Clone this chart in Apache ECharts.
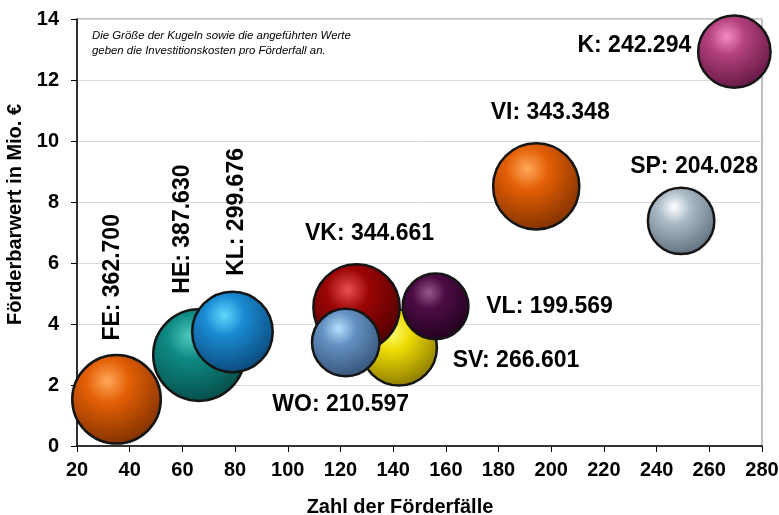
<!DOCTYPE html>
<html>
<head>
<meta charset="utf-8">
<script src="https://cdn.jsdelivr.net/npm/echarts@6/dist/echarts.min.js"></script>
<style>html,body{margin:0;padding:0;background:#fff}#c{width:779px;height:515px}</style>
</head>
<body>
<div id="c"></div>
<script>
// Data
const names = ['FE', 'HE', 'KL', 'SV', 'VK', 'VL', 'WO', 'VI', 'SP', 'K'];
const foerderfaelle = [35, 66.3, 79, 142.2, 126.1, 156.1, 122, 194.3, 249.3, 269.5];
const foerderbarwert = [1.53, 2.98, 3.74, 3.23, 4.54, 4.58, 3.39, 8.51, 7.38, 12.93];
const investKosten = [362700, 387630, 299676, 266601, 344661, 199569, 210597, 343348, 204028, 242294];
const xTicks = [20, 40, 60, 80, 100, 120, 140, 160, 180, 200, 220, 240, 260, 280];
const yTicks = [0, 2, 4, 6, 8, 10, 12, 14];

// Styles (not data)
const palette = {
  FE: ['#FFA85A', '#E35F05', '#7A2E00'],
  HE: ['#4FC7BE', '#0F8A84', '#054A46'],
  KL: ['#5ED8FF', '#1A8BD2', '#0A4474'],
  SV: ['#FFFF7A', '#EEDC05', '#857400'],
  VK: ['#E85050', '#9C0505', '#4A0000'],
  VL: ['#94588A', '#4C0C44', '#20001C'],
  WO: ['#B6E0FF', '#6491C2', '#324F72'],
  VI: ['#FFA85A', '#E35F05', '#7A2E00'],
  SP: ['#FFFFFF', '#AABAC6', '#5A6A78'],
  K:  ['#F58CC6', '#B4427E', '#5E1440']
};
// screen offsets of label centre from bubble centre
const labelLayoutCfg = {
  FE: {offset: [-4, -122], rotate: 90},
  HE: {offset: [-16, -126], rotate: 90},
  KL: {offset: [4, -120], rotate: 90},
  SV: {offset: [117, 13], rotate: 0},
  VK: {offset: [13, -74], rotate: 0},
  VL: {offset: [114, 0], rotate: 0},
  WO: {offset: [-5, 62], rotate: 0},
  VI: {offset: [14, -74], rotate: 0},
  SP: {offset: [13, -54], rotate: 0},
  K:  {offset: [-100, -6], rotate: 0}
};

function fmt(v) {
  const s = String(Math.round(v));
  return s.replace(/\B(?=(\d{3})+(?!\d))/g, '.');
}

const FONT = 'Liberation Sans, Arial, sans-serif';

const seriesData = names.map((n, i) => {
  const c = palette[n];
  const ll = labelLayoutCfg[n];
  return {
    name: n,
    value: [foerderfaelle[i], foerderbarwert[i], investKosten[i]],
    itemStyle: {
      opacity: 1,
      color: {
        type: 'radial', x: 0.4, y: 0.3, r: 0.75,
        colorStops: [
          {offset: 0, color: c[0]},
          {offset: 0.32, color: c[1]},
          {offset: 1, color: c[2]}
        ]
      },
      borderColor: '#151515',
      borderWidth: 2.5
    },
    label: {
      show: true,
      position: 'inside',
      rotate: ll.rotate,
      formatter: n + ': ' + fmt(investKosten[i])
    }
  };
});

const chart = echarts.init(document.getElementById('c'), null, {renderer: 'canvas'});
chart.setOption({
  animation: false,
  backgroundColor: '#fff',
  grid: {
    left: 77, right: 17, top: 19, bottom: 69,
    show: true, borderColor: '#808080', borderWidth: 1,
    outerBoundsMode: 'none'
  },
  xAxis: {
    type: 'value', min: 20, max: 280, interval: 20,
    name: 'Zahl der Förderfälle', nameLocation: 'middle', nameGap: 51,
    nameTextStyle: {fontFamily: FONT, fontSize: 20, fontWeight: 'bold', color: '#000', padding: [0, 39, 0, 0]},
    axisLine: {show: true, onZero: false, lineStyle: {color: '#000', width: 1.5}},
    axisTick: {show: true, inside: false, length: 6, lineStyle: {color: '#000'}},
    axisLabel: {margin: 14, fontFamily: FONT, fontSize: 20, fontWeight: 'bold', color: '#000',
      formatter: v => xTicks.includes(v) ? String(v) : ''},
    splitLine: {show: false}
  },
  yAxis: {
    type: 'value', min: 0, max: 14, interval: 2,
    name: 'Förderbarwert in Mio. €', nameLocation: 'middle', nameGap: 48,
    nameTextStyle: {fontFamily: FONT, fontSize: 20, fontWeight: 'bold', color: '#000', padding: [0, 0, 0, 36]},
    axisLine: {show: true, onZero: false, lineStyle: {color: '#000', width: 1.5}},
    axisTick: {show: true, inside: false, length: 6, lineStyle: {color: '#000'}},
    axisLabel: {margin: 18, fontFamily: FONT, fontSize: 20, fontWeight: 'bold', color: '#000',
      formatter: v => yTicks.includes(v) ? String(v) : ''},
    splitLine: {show: true, lineStyle: {color: '#d9d9d9', width: 1}}
  },
  graphic: [{
    type: 'text', left: 92, top: 28,
    style: {
      text: 'Die Größe der Kugeln sowie die angeführten Werte\ngeben die Investitionskosten pro Förderfall an.',
      font: 'italic 11.4px ' + FONT, fill: '#000', lineHeight: 15
    }
  }],
  series: [{
    type: 'scatter',
    clip: true,
    data: seriesData,
    symbolSize: v => 4.65 * Math.sqrt(v[2] / 1000),
    label: {color: '#000', fontFamily: FONT, fontSize: 23, fontWeight: 'bold'},
    labelLayout: function (params) {
      const cfg = labelLayoutCfg[names[params.dataIndex]];
      const sx = cfg.offset[0], sy = cfg.offset[1];
      if (cfg.rotate === 90) {
        // offsets are applied in the label's rotated frame
        return {dx: -sy, dy: sx, hideOverlap: false};
      }
      return {dx: sx, dy: sy, hideOverlap: false};
    },
    emphasis: {disabled: true}
  }]
});
</script>
</body>
</html>
